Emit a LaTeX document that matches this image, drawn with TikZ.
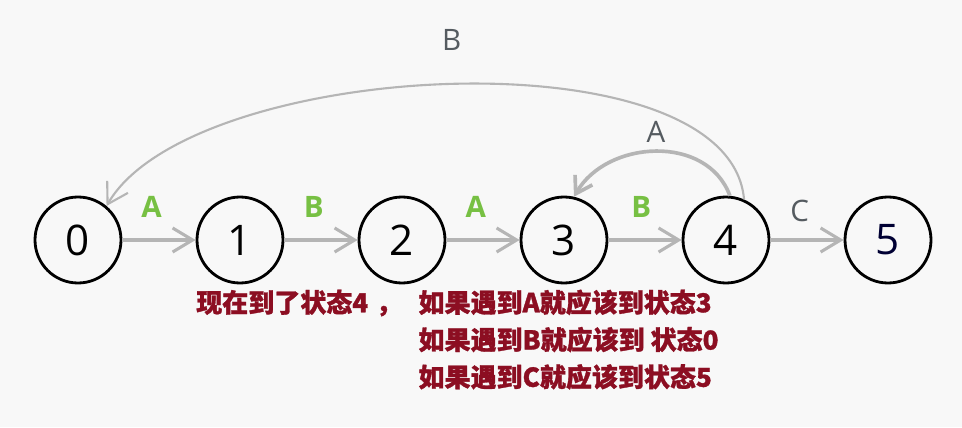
\documentclass[tikz,border=0pt]{standalone}
\usepackage{fontspec}
\setsansfont{Open Sans}
\newfontfamily\cjk{Noto Sans CJK SC}[BoldFeatures={FakeBold=1.2}]
\usetikzlibrary{arrows.meta,positioning}
\definecolor{edgegray}{HTML}{B5B5B5}
\definecolor{labelgreen}{HTML}{77C043}
\definecolor{labelgray}{HTML}{555B60}
\definecolor{notered}{HTML}{8C0E22}
\definecolor{paper}{HTML}{F8F8F8}
\begin{document}
\begin{tikzpicture}[node distance=4.05cm, >={Straight Barb[length=5mm,width=6mm]}]
    \tikzstyle{state}=[circle,draw,line width=2pt,minimum size=2.15cm,inner sep=0pt,font=\sffamily\fontsize{30}{30}\selectfont]
    \tikzstyle{move}=[->,draw=edgegray,line width=2.2pt]
    \tikzstyle{hit}=[text=labelgreen,inner sep=1pt,font=\sffamily\bfseries\fontsize{21}{21}\selectfont]
    \tikzstyle{miss}=[text=labelgray,inner sep=1pt,font=\sffamily\fontsize{21}{21}\selectfont]
    \tikzstyle{note}=[inner sep=0pt,text=notered,font=\cjk\bfseries\fontsize{18.5}{26.5}\selectfont]
    \fill [paper] (0,0) rectangle (24.05,10.675);
    \useasboundingbox (0,0) rectangle (24.05,10.675);
    \node (s0) [state] at (1.95,4.675) {0};
    \node (s1) [state] [right of=s0] {1};
    \node (s2) [state] [right of=s1] {2};
    \node (s3) [state] [right of=s2] {3};
    \node (s4) [state] [right of=s3] {4};
    \node (s5) [state] [right of=s4, text=black!80!blue] {5};
    \draw [move] (s0) -- node [hit, pos=0.4, above=14pt] {A} (s1);
    \draw [move] (s1) -- node [hit, pos=0.4, above=14pt] {B} (s2);
    \draw [move] (s2) -- node [hit, pos=0.4, above=14pt] {A} (s3);
    \draw [move] (s3) -- node [hit, pos=0.45, above=14pt] {B} (s4);
    \draw [move] (s4) -- node [miss, pos=0.4, above=11pt] {C} (s5);
    % back edges from state 4
    \draw [->, draw=edgegray, line width=1.5pt] (s4.66) to [out=95, in=60, looseness=0.68] node [miss, pos=0.5, above=22pt] {B} (s0.50);
    \draw [-{Straight Barb[length=4mm,width=5mm]}, draw=edgegray, line width=2.6pt] (s4.85) to [out=110, in=60, looseness=1.08] node [miss, above=4pt] {A} (s3.77);
    \node (now) [note, anchor=west] at (4.9,3.1) {现在到了状态4\hspace{0.3em}，};
    \node (rules) [note, anchor=north west, align=left] at ([xshift=0.4cm]now.north east) {如果遇到A就应该到状态3\\如果遇到B就应该到 状态0\\如果遇到C就应该到状态5};
\end{tikzpicture}
\end{document}
